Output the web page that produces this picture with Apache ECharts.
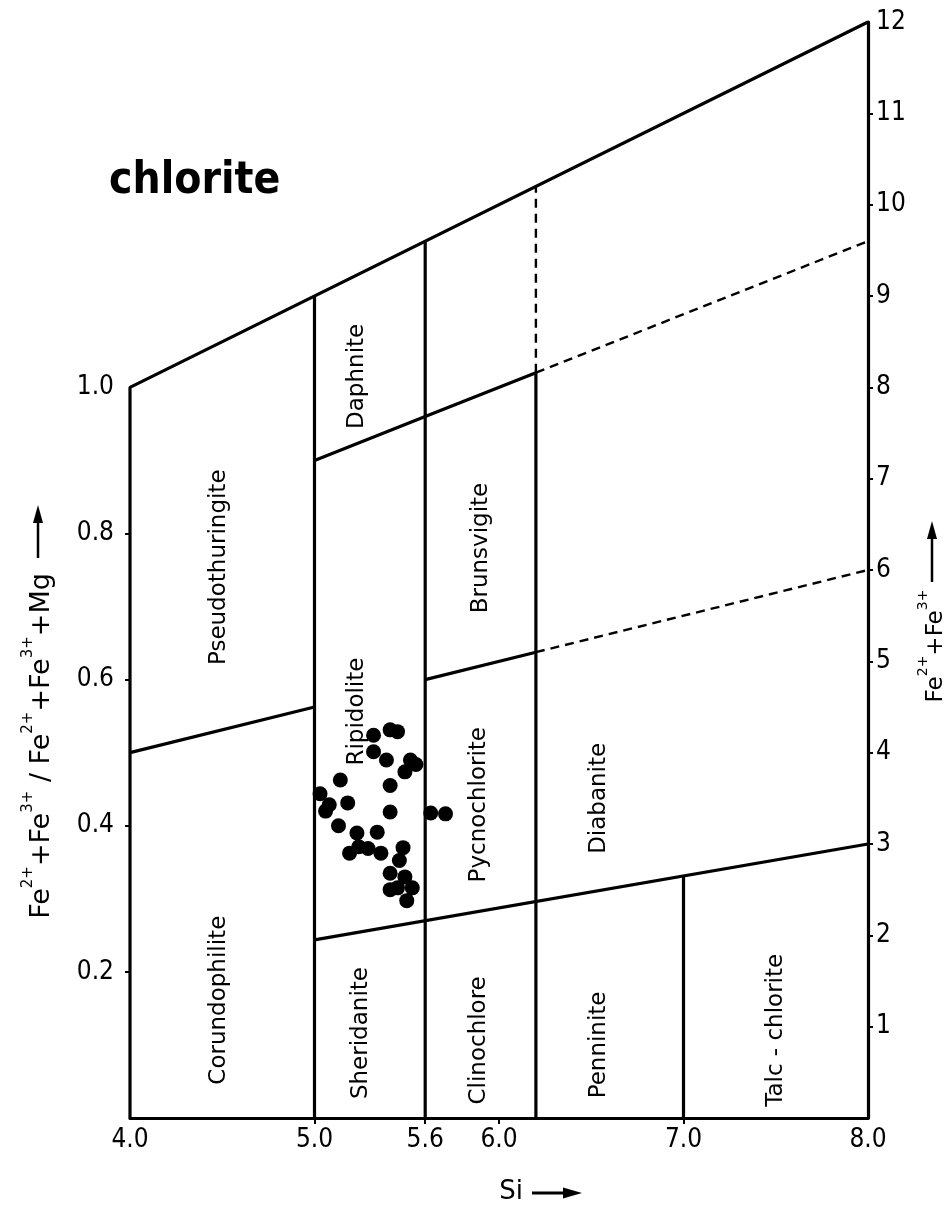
<!DOCTYPE html>
<html><head><meta charset="utf-8">
<script src="https://cdn.jsdelivr.net/npm/echarts@6/dist/echarts.min.js"></script>
<style>html,body{margin:0;padding:0;background:#fff}#c{width:950px;height:1218px}</style>
</head><body><div id="c"></div>
<script>
// ---------- axis ticks ----------
const siLabelValues = [4.0, 5.0, 5.6, 6.0, 7.0, 8.0];
const siTickValues = [5.0, 5.6, 6.0, 7.0];
const ratioLabelValues = [0.2, 0.4, 0.6, 0.8, 1.0];
const ratioTickValues = [0.2, 0.4, 0.6, 0.8];
const feLabelValues = [1, 2, 3, 4, 5, 6, 7, 8, 9, 10, 11, 12];
const feTickValues = [1, 2, 3, 4, 5, 6, 7, 8, 9, 10, 11];

// ---------- field boundaries, [Si, Fe2+ + Fe3+] ----------
const outerBoundary = [[4.0, 0], [4.0, 8.0], [8.0, 12.0]];
const solidBoundaries = [
  [[5.0, 0], [5.0, 9.0]],
  [[5.6, 0], [5.6, 9.6]],
  [[6.2, 0], [6.2, 8.16]],
  [[7.0, 0], [7.0, 2.65]],
  [[5.0, 7.2], [5.6, 7.68], [6.2, 8.16]],
  [[4.0, 4.0], [5.0, 4.5]],
  [[5.6, 4.8], [6.2, 5.1]],
  [[5.0, 1.95], [8.0, 3.0]]
];
const dashedBoundaries = [
  [[6.2, 8.16], [6.2, 10.2]],
  [[6.2, 8.16], [8.0, 9.6]],
  [[6.2, 5.1], [8.0, 6.0]]
];

// ---------- analysed chlorites ----------
const sampleSi = [5.32, 5.41, 5.45, 5.32, 5.39, 5.52, 5.55, 5.49, 5.14, 5.41, 5.03, 5.08, 5.06, 5.18, 5.41, 5.63,
                  5.71, 5.13, 5.23, 5.34, 5.19, 5.24, 5.29, 5.36, 5.48, 5.46, 5.41, 5.49, 5.41, 5.45, 5.53, 5.50];
const sampleFe = [4.19, 4.25, 4.23, 4.01, 3.92, 3.92, 3.87, 3.79, 3.70, 3.64, 3.55, 3.43, 3.36, 3.45, 3.35, 3.34,
                  3.33, 3.20, 3.12, 3.13, 2.90, 2.97, 2.95, 2.90, 2.96, 2.82, 2.68, 2.64, 2.50, 2.52, 2.52, 2.38];

// ---------- field names ----------
const fieldNames = ['Pseudothuringite', 'Corundophilite', 'Daphnite', 'Ripidolite', 'Sheridanite', 'Brunsvigite',
                    'Pycnochlorite', 'Clinochlore', 'Diabanite', 'Penninite', 'Talc - chlorite'];
const fieldAnchors = [[4.48, 6.03], [4.48, 1.29], [5.23, 8.12], [5.23, 4.45], [5.25, 0.93], [5.90, 6.24],
                      [5.89, 3.43], [5.89, 0.85], [6.54, 3.50], [6.54, 0.80], [7.50, 0.96]];

const FONT = "'DejaVu Sans', sans-serif";
const FONTC = "'DejaVu Sans Condensed', 'DejaVu Sans', sans-serif";

const chart = echarts.init(document.getElementById('c'), null, {renderer: 'canvas'});

const lineSeries = [];
function addSeg(seg, dashed) {
  lineSeries.push({
    type: 'line', xAxisIndex: 0, yAxisIndex: 1, data: seg, symbol: 'none', silent: true, clip: false,
    animation: false, z: 2,
    lineStyle: dashed ? {color: '#000', width: 2.4, type: [9, 6]} : {color: '#000', width: 3.2}
  });
}
addSeg(outerBoundary, false);
solidBoundaries.forEach(s => addSeg(s, false));
dashedBoundaries.forEach(s => addSeg(s, true));

const option = {
  backgroundColor: '#fff',
  animation: false,
  grid: {left: 130, right: 82, top: 22, bottom: 100, containLabel: false, outerBoundsMode: 'none'},
  xAxis: {
    type: 'value', min: 4, max: 8,
    axisLine: {show: true, onZero: false, lineStyle: {color: '#000', width: 3.2}},
    axisTick: {show: true, customValues: siTickValues, length: 6, lineStyle: {color: '#000', width: 2}},
    axisLabel: {customValues: siLabelValues, formatter: v => Number(v).toFixed(1), color: '#000',
                fontSize: 26, fontFamily: FONTC, margin: 9},
    splitLine: {show: false}
  },
  yAxis: [
    {
      type: 'value', position: 'left', min: 0, max: 1.5,
      axisLine: {show: false},
      axisTick: {show: true, customValues: ratioTickValues, length: 5, lineStyle: {color: '#000', width: 2}},
      axisLabel: {customValues: ratioLabelValues, formatter: v => Number(v).toFixed(1), color: '#000',
                  fontSize: 26, fontFamily: FONTC, margin: 16},
      splitLine: {show: false}
    },
    {
      type: 'value', position: 'right', min: 0, max: 12,
      axisLine: {show: true, onZero: false, lineStyle: {color: '#000', width: 3.2}},
      axisTick: {show: true, customValues: feTickValues, length: 5, lineStyle: {color: '#000', width: 2}},
      axisLabel: {customValues: feLabelValues, formatter: v => String(v), color: '#000',
                  fontSize: 26, fontFamily: FONTC, margin: 8},
      splitLine: {show: false}
    }
  ],
  series: lineSeries.concat([
    {
      type: 'scatter', xAxisIndex: 0, yAxisIndex: 1, symbol: 'circle', symbolSize: 15, z: 5,
      itemStyle: {color: '#000', opacity: 1}, silent: true, emphasis: {disabled: true},
      data: sampleSi.map((s, i) => [s, sampleFe[i]])
    },
    {
      type: 'scatter', xAxisIndex: 0, yAxisIndex: 1, symbol: 'circle', symbolSize: 0, z: 4, silent: true,
      itemStyle: {color: '#fff', opacity: 1}, emphasis: {disabled: true},
      label: {show: true, position: 'inside', formatter: '{b}', rotate: 90, color: '#000', opacity: 1,
              fontSize: 23, fontFamily: FONT, align: 'center', verticalAlign: 'middle'},
      data: fieldNames.map((n, i) => ({name: n, value: fieldAnchors[i]}))
    }
  ]),
  graphic: [
    {type: 'text', left: 109, top: 160, style: {text: 'chlorite', fill: '#000', fontSize: 44,
      fontWeight: 'bold', fontFamily: FONTC}},
    // left axis title
    {type: 'text', x: 38, y: 746, rotation: Math.PI / 2,
      style: {text: '{b|Fe}{s|2+}{b|+Fe}{s|3+}{b| / Fe}{s|2+}{b|+Fe}{s|3+}{b|+Mg}', fill: '#000',
        align: 'center', verticalAlign: 'middle',
        rich: {b: {fontSize: 27, fontFamily: FONT, lineHeight: 35, verticalAlign: 'bottom', fill: '#000'},
               s: {fontSize: 15, fontFamily: FONT, lineHeight: 35, verticalAlign: 'top', fill: '#000'}}}},
    {type: 'line', shape: {x1: 38, y1: 558, x2: 38, y2: 520}, style: {stroke: '#000', lineWidth: 2.5}},
    {type: 'polygon', shape: {points: [[33, 523], [43, 523], [38, 505]]}, style: {fill: '#000'}},
    // right axis title
    {type: 'text', x: 932, y: 646, rotation: Math.PI / 2,
      style: {text: '{b|Fe}{s|2+}{b|+Fe}{s|3+}', fill: '#000', align: 'center', verticalAlign: 'middle',
        rich: {b: {fontSize: 23, fontFamily: FONT, lineHeight: 32, verticalAlign: 'bottom', fill: '#000'},
               s: {fontSize: 14, fontFamily: FONT, lineHeight: 32, verticalAlign: 'top', fill: '#000'}}}},
    {type: 'line', shape: {x1: 932, y1: 582, x2: 932, y2: 536}, style: {stroke: '#000', lineWidth: 2.5}},
    {type: 'polygon', shape: {points: [[927, 539], [937, 539], [932, 521]]}, style: {fill: '#000'}},
    // x axis title
    {type: 'text', x: 511, y: 1192, style: {text: 'Si', fill: '#000', fontSize: 26, fontFamily: FONT,
      align: 'center', verticalAlign: 'middle'}},
    {type: 'line', shape: {x1: 532, y1: 1193, x2: 566, y2: 1193}, style: {stroke: '#000', lineWidth: 3}},
    {type: 'polygon', shape: {points: [[563, 1187.5], [563, 1198.5], [582, 1193]]}, style: {fill: '#000'}}
  ]
};
chart.setOption(option);
</script></body></html>
